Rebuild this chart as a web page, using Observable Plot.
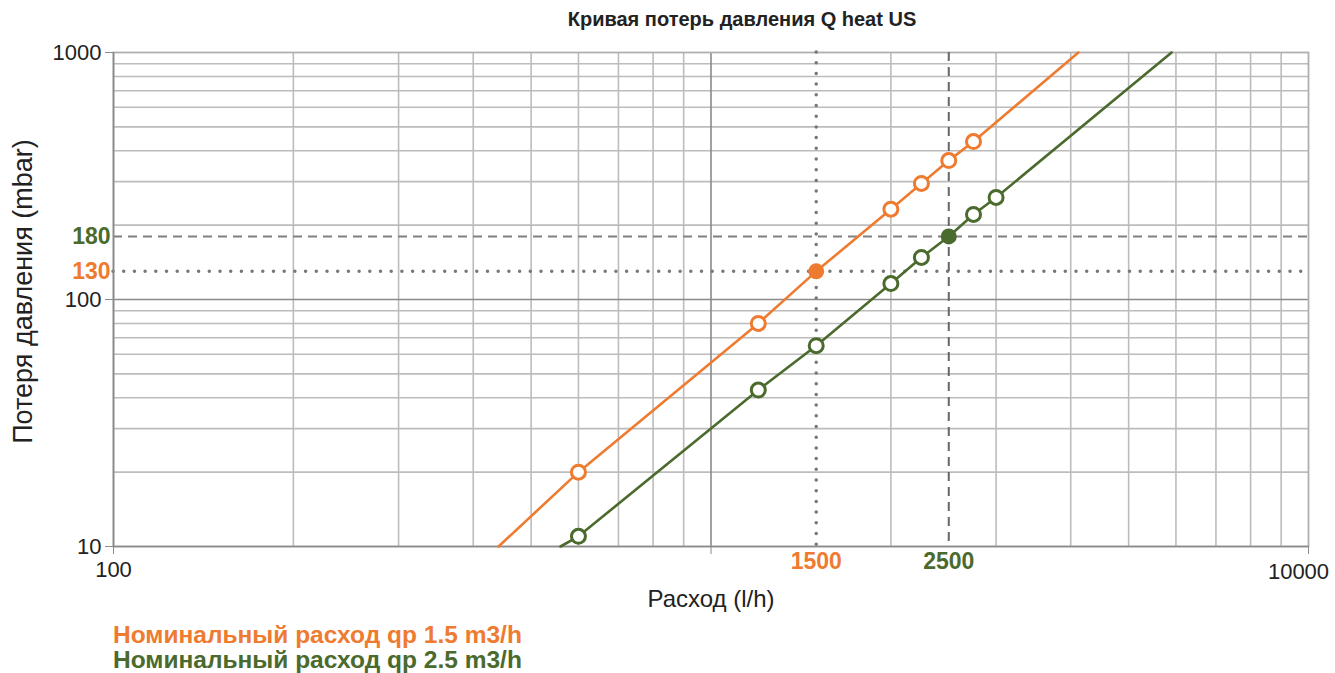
<!DOCTYPE html>
<html>
<head>
<meta charset="utf-8">
<script src="https://cdn.jsdelivr.net/npm/d3@7"></script>
<script src="https://cdn.jsdelivr.net/npm/@observablehq/plot@0.6"></script>
<style>
  body { margin: 0; background: #fff; }
  #wrap { position: relative; width: 1335px; height: 673px; font-family: "Liberation Sans", Arial, sans-serif; }
  #title { position: absolute; top: 8px; left: 0; width: 1484px; text-align: center; font-weight: bold; font-size: 20px; color: #222; }
  .leg { position: absolute; left: 113px; font-weight: bold; font-size: 24.5px; white-space: nowrap; line-height: 25px; }
</style>
</head>
<body>
<div id="wrap">
  <div id="title">Кривая потерь давления Q heat US</div>
  <div id="chart"></div>
  <div class="leg" id="leg1" style="top:622px;color:#EE7B30">Номинальный расход qp 1.5 m3/h</div>
  <div class="leg" id="leg2" style="top:647px;color:#4B6A2D">Номинальный расход qp 2.5 m3/h</div>
</div>
<script>
// ---- data ----
const orangeQ = [600, 1200, 1500, 2000, 2250, 2500, 2750];
const orangeP = [20, 80, 130, 232, 295, 365, 436];
const orangeEndQ = [441, 4120];
const orangeEndP = [10, 1000];

const greenQ = [600, 1200, 1500, 2000, 2250, 2500, 2750, 3000];
const greenP = [11, 43, 65, 116, 148, 180, 221, 259];
const greenEndQ = [560, 5900];
const greenEndP = [10, 1000];

const nominalQ = [1500, 2500];      // orange, green
const nominalP = [130, 180];
const nominalLabels = ["1500", "2500"];
const nominalPLabels = ["130", "180"];

const xTicks = [100, 1000, 10000];
const xTickLabels = ["100", "", "10000"];
const yTicks = [10, 100, 1000];
const xGrid = [200, 300, 400, 500, 600, 700, 800, 900, 2000, 3000, 4000, 5000, 6000, 7000, 8000, 9000];
const yGrid = [20, 30, 40, 50, 60, 70, 80, 90, 200, 300, 400, 500, 600, 700, 800, 900];

const ORANGE = "#EE7B30";
const GREEN = "#4B6A2D";

const pts = (qs, ps) => qs.map((q, i) => ({q, p: ps[i]}));
const orangeLine = [{q: orangeEndQ[0], p: orangeEndP[0]}, ...pts(orangeQ, orangeP), {q: orangeEndQ[1], p: orangeEndP[1]}];
const greenLine = [{q: greenEndQ[0], p: greenEndP[0]}, ...pts(greenQ, greenP), {q: greenEndQ[1], p: greenEndP[1]}];
const orangePts = pts(orangeQ, orangeP);
const greenPts = pts(greenQ, greenP);
const xLabelData = xTicks.map((q, i) => ({q, t: xTickLabels[i]})).filter(d => d.t !== "");

const chart = Plot.plot({
  width: 1335,
  height: 673,
  marginLeft: 113,
  marginRight: 27,
  marginTop: 52,
  marginBottom: 127,
  style: {fontFamily: "'Liberation Sans', Arial, sans-serif", background: "#fff", overflow: "visible"},
  x: {type: "log", domain: [100, 10000]},
  y: {type: "log", domain: [10, 1000]},
  marks: [
    Plot.ruleX(xGrid, {stroke: "#bcbcbc", strokeWidth: 1.6}),
    Plot.ruleY(yGrid, {stroke: "#bcbcbc", strokeWidth: 1.6}),
    Plot.ruleX([1000], {stroke: "#8a8a8a", strokeWidth: 1.6}),
    Plot.ruleY([100], {stroke: "#8a8a8a", strokeWidth: 1.6}),
    Plot.frame({stroke: "#b0b0b0", strokeWidth: 1.8}),
    // reference lines
    Plot.ruleY([nominalP[0]], {stroke: "#777", strokeWidth: 3.5, strokeDasharray: "0 10.7", strokeLinecap: "round"}),
    Plot.ruleY([nominalP[1]], {stroke: "#808080", strokeWidth: 2, strokeDasharray: "9 6"}),
    Plot.ruleX([nominalQ[0]], {stroke: "#777", strokeWidth: 3.5, strokeDasharray: "0 10.7", strokeLinecap: "round"}),
    Plot.ruleX([nominalQ[1]], {stroke: "#666", strokeWidth: 2, strokeDasharray: "9 6"}),
    // axes
    Plot.axisX(xTicks, {anchor: "bottom", tickSize: 8, stroke: "#8a8a8a", tickFormat: () => "", label: null}),
    Plot.text(xLabelData, {x: "q", text: "t", frameAnchor: "bottom", lineAnchor: "middle", dy: 23, fontSize: 22, fill: "#222", textAnchor: "middle"}),
    Plot.axisY(yTicks, {anchor: "left", tickSize: 8, tickPadding: 4, stroke: "#8a8a8a", fill: "#222", fontSize: 22,
      tickFormat: (d) => String(d), label: null}),
    Plot.ruleY([10], {stroke: "#8a8a8a", strokeWidth: 1.6}),
    Plot.ruleX([100], {stroke: "#8a8a8a", strokeWidth: 1.6}),
    // curves
    Plot.line(orangeLine, {x: "q", y: "p", stroke: ORANGE, strokeWidth: 2.6}),
    Plot.line(greenLine, {x: "q", y: "p", stroke: GREEN, strokeWidth: 2.6}),
    Plot.dot(orangePts.filter(d => d.q !== nominalQ[0]), {x: "q", y: "p", r: 7, stroke: ORANGE, strokeWidth: 3, fill: "#fff"}),
    Plot.dot(greenPts.filter(d => d.q !== nominalQ[1]), {x: "q", y: "p", r: 7, stroke: GREEN, strokeWidth: 3, fill: "#fff"}),
    Plot.dot([{q: nominalQ[0], p: nominalP[0]}], {x: "q", y: "p", r: 8, fill: ORANGE}),
    Plot.dot([{q: nominalQ[1], p: nominalP[1]}], {x: "q", y: "p", r: 8, fill: GREEN}),
    // nominal labels
    Plot.text([0], {x: () => nominalQ[0], frameAnchor: "bottom", lineAnchor: "middle", dy: 15, textAnchor: "middle", text: () => nominalLabels[0], fill: ORANGE, fontWeight: "bold", fontSize: 23}),
    Plot.text([0], {x: () => nominalQ[1], frameAnchor: "bottom", lineAnchor: "middle", dy: 15, textAnchor: "middle", text: () => nominalLabels[1], fill: GREEN, fontWeight: "bold", fontSize: 23}),
    Plot.text([0], {y: () => nominalP[0], frameAnchor: "left", dx: -3, textAnchor: "end", text: () => nominalPLabels[0], fill: ORANGE, fontWeight: "bold", fontSize: 23}),
    Plot.text([0], {y: () => nominalP[1], frameAnchor: "left", dx: -3, textAnchor: "end", text: () => nominalPLabels[1], fill: GREEN, fontWeight: "bold", fontSize: 23}),
    // axis titles
    Plot.text(["Расход (l/h)"], {frameAnchor: "bottom", dy: 60, textAnchor: "middle", fontSize: 24, fill: "#222"}),
    Plot.text(["Потеря давления (mbar)"], {frameAnchor: "left", dx: -90, dy: -8, textAnchor: "middle", rotate: -90, fontSize: 27, fill: "#222"})
  ]
});
// shift the "10000" label left like the reference so it stays inside the picture
chart.querySelectorAll("text").forEach(t => { if (t.textContent === "10000") t.setAttribute("transform", (t.getAttribute("transform") || "") + " translate(-10,2)"); });
document.getElementById("chart").appendChild(chart);
</script>
</body>
</html>
